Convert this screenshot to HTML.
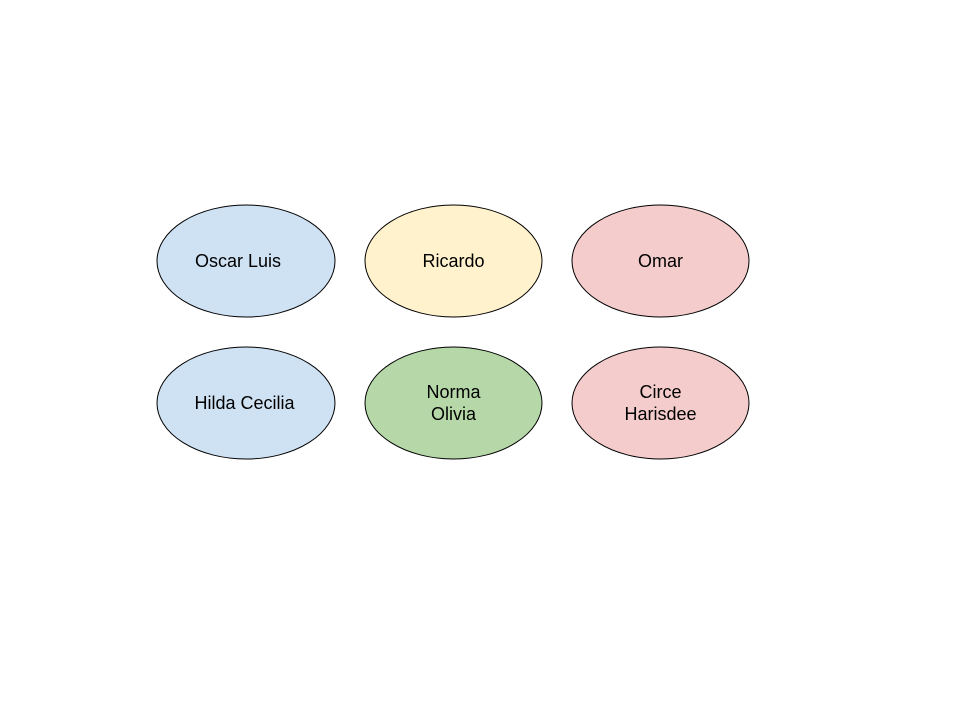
<!DOCTYPE html>
<html><head><style>body{margin:0;background:#fff}</style></head><body>
<svg width="960" height="720" xmlns="http://www.w3.org/2000/svg" font-family="Liberation Sans, Arial, sans-serif" font-size="18" text-anchor="middle">
<rect width="960" height="720" fill="#fff"/>
<g stroke="#000" stroke-width="1">
<ellipse cx="246" cy="261" rx="89" ry="56" fill="#cfe2f3"/>
<ellipse cx="453.5" cy="261" rx="88.5" ry="56" fill="#fff2cc"/>
<ellipse cx="660.5" cy="261" rx="88.5" ry="56" fill="#f4cccc"/>
<ellipse cx="246" cy="403" rx="89" ry="56" fill="#cfe2f3"/>
<ellipse cx="453.5" cy="403" rx="88.5" ry="56" fill="#b6d7a8"/>
<ellipse cx="660.5" cy="403" rx="88.5" ry="56" fill="#f4cccc"/>
</g>
<text x="238" y="267">Oscar Luis</text>
<text x="453.5" y="267">Ricardo</text>
<text x="660.5" y="267">Omar</text>
<text x="244.5" y="409">Hilda Cecilia</text>
<text x="453.5" y="398">Norma</text>
<text x="453.5" y="420">Olivia</text>
<text x="660.5" y="398">Circe</text>
<text x="660.5" y="420">Harisdee</text>
</svg>
</body></html>
